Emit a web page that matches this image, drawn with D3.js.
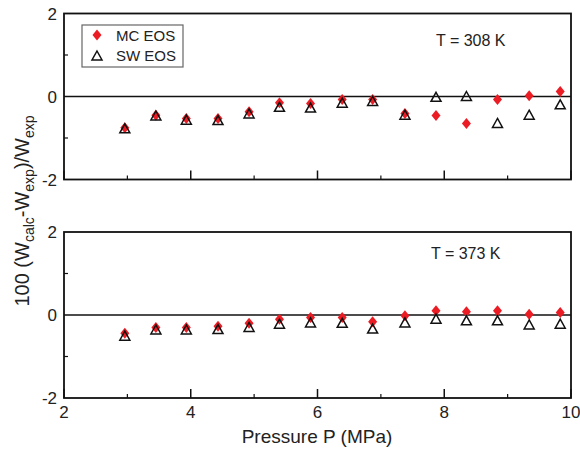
<!DOCTYPE html>
<html>
<head>
<meta charset="utf-8">
<script src="https://cdn.jsdelivr.net/npm/d3@7"></script>
<style>
body{margin:0;background:#fff}
svg text{font-family:"Liberation Sans",Arial,Helvetica,sans-serif;fill:#222}
</style>
</head>
<body>
<svg id="graph"></svg>
<script>
// pressure points (MPa)
var pressure=[2.96,3.45,3.93,4.43,4.92,5.40,5.89,6.39,6.87,7.38,7.87,8.35,8.84,9.34,9.83]

// deviations at T = 308 K
var mc308=[-0.75,-0.45,-0.53,-0.53,-0.37,-0.15,-0.17,-0.07,-0.07,-0.41,-0.46,-0.65,-0.07,0.02,0.12]
var sw308=[-0.78,-0.47,-0.57,-0.58,-0.42,-0.26,-0.28,-0.16,-0.12,-0.45,-0.02,0.00,-0.65,-0.45,-0.20]

// deviations at T = 373 K
var mc373=[-0.44,-0.30,-0.30,-0.27,-0.20,-0.10,-0.06,-0.06,-0.16,-0.02,0.10,0.08,0.10,0.02,0.06]
var sw373=[-0.51,-0.36,-0.36,-0.35,-0.30,-0.22,-0.19,-0.20,-0.34,-0.19,-0.10,-0.14,-0.14,-0.24,-0.22]

var xMajor=[2,4,6,8,10]
var xMinor=[3,5,7,9]
var yMajor=[-2,0,2]
var yMinor=[-1,1]
var seriesNames=["MC EOS","SW EOS"]
var panelTitles=["T = 308 K","T = 373 K"]

var screen={width:580,height:452}
var red="#ec1c24"

var svg=d3.select("#graph")
  .attr("width",screen.width)
  .attr("height",screen.height)

var xscale=d3.scaleLinear()
  .domain([2,10])
  .range([64,571])

var panels=[
  {top:13.5,bottom:179.5,mc:mc308,sw:sw308,title:panelTitles[0],tx:436,ty:46,legend:true},
  {top:232,bottom:398,mc:mc373,sw:sw373,title:panelTitles[1],tx:431,ty:259,legend:false}
]

var diamond=function(x,y){return "M"+x+","+(y-5.5)+"L"+(x+4.5)+","+y+"L"+x+","+(y+5.5)+"L"+(x-4.5)+","+y+"Z"}
var triangle=function(x,y){return "M"+x+","+(y-5)+"L"+(x+5)+","+(y+4)+"L"+(x-5)+","+(y+4)+"Z"}

panels.forEach(function(p,i){
  var yscale=d3.scaleLinear()
    .domain([-2,2])
    .range([p.bottom,p.top])
  var g=svg.append("g")

  // x ticks, inward
  g.selectAll(".xmaj").data(xMajor).enter().append("line")
    .attr("x1",function(d){return xscale(d)}).attr("x2",function(d){return xscale(d)})
    .attr("y1",p.bottom).attr("y2",p.bottom-9)
    .attr("stroke","#111").attr("stroke-width",1.5)
  g.selectAll(".xmin").data(xMinor).enter().append("line")
    .attr("x1",function(d){return xscale(d)}).attr("x2",function(d){return xscale(d)})
    .attr("y1",p.bottom).attr("y2",p.bottom-4)
    .attr("stroke","#111").attr("stroke-width",1.2)

  // y ticks
  g.selectAll(".ymin").data(yMinor).enter().append("line")
    .attr("x1",64).attr("x2",68)
    .attr("y1",function(d){return yscale(d)}).attr("y2",function(d){return yscale(d)})
    .attr("stroke","#111").attr("stroke-width",1.2)

  g.selectAll(".ylab").data(yMajor).enter().append("text")
    .attr("x",57)
    .attr("y",function(d){return yscale(d)})
    .attr("dy","0.36em")
    .attr("text-anchor","end")
    .style("font-size","17px")
    .text(function(d){return d})

  if(i==1){
    g.selectAll(".xlab").data(xMajor).enter().append("text")
      .attr("x",function(d){return xscale(d)})
      .attr("y",p.bottom+20)
      .attr("text-anchor","middle")
      .style("font-size","17px")
      .text(function(d){return d})
  }

  // zero line
  g.append("line")
    .attr("x1",xscale(2)).attr("x2",xscale(10))
    .attr("y1",yscale(0)).attr("y2",yscale(0))
    .attr("stroke","#111").attr("stroke-width",1.5)

  // frame
  g.append("rect")
    .attr("x",xscale(2)).attr("y",p.top)
    .attr("width",xscale(10)-xscale(2)).attr("height",p.bottom-p.top)
    .attr("fill","none").attr("stroke","#111").attr("stroke-width",1.8)

  g.selectAll(".mc").data(pressure).enter().append("path")
    .attr("d",function(d,j){return diamond(xscale(d),yscale(p.mc[j]))})
    .attr("fill",red)

  g.selectAll(".sw").data(pressure).enter().append("path")
    .attr("d",function(d,j){return triangle(xscale(d),yscale(p.sw[j]))})
    .attr("fill","none").attr("stroke","#111").attr("stroke-width",1.5)

  g.append("text")
    .attr("x",p.tx).attr("y",p.ty)
    .style("font-size","16px")
    .text(p.title)

  if(p.legend){
    var lg=g.append("g")
    lg.append("rect")
      .attr("x",82).attr("y",25).attr("width",101).attr("height",42)
      .attr("fill","#fff").attr("stroke","#666").attr("stroke-width",1.2)
    lg.append("path").attr("d",diamond(97,35)).attr("fill",red)
    lg.append("path").attr("d",triangle(97,56)).attr("fill","none").attr("stroke","#111").attr("stroke-width",1.5)
    lg.selectAll(".lt").data(seriesNames).enter().append("text")
      .attr("x",116)
      .attr("y",function(d,k){return 41+k*20})
      .style("font-size","15px")
      .text(function(d){return d})
  }
})

// axis titles
svg.append("text")
  .attr("x",317).attr("y",443)
  .attr("text-anchor","middle")
  .style("font-size","19px")
  .text("Pressure P (MPa)")

var yl=svg.append("text")
  .attr("transform","translate(29,211) rotate(-90)")
  .attr("text-anchor","middle")
  .style("font-size","20px")
yl.append("tspan").text("100 (W")
yl.append("tspan").attr("dy",5).style("font-size","14px").text("calc")
yl.append("tspan").attr("dy",-5).text("-W")
yl.append("tspan").attr("dy",5).style("font-size","14px").text("exp")
yl.append("tspan").attr("dy",-5).text(")/W")
yl.append("tspan").attr("dy",5).style("font-size","14px").text("exp")
</script>
</body>
</html>
